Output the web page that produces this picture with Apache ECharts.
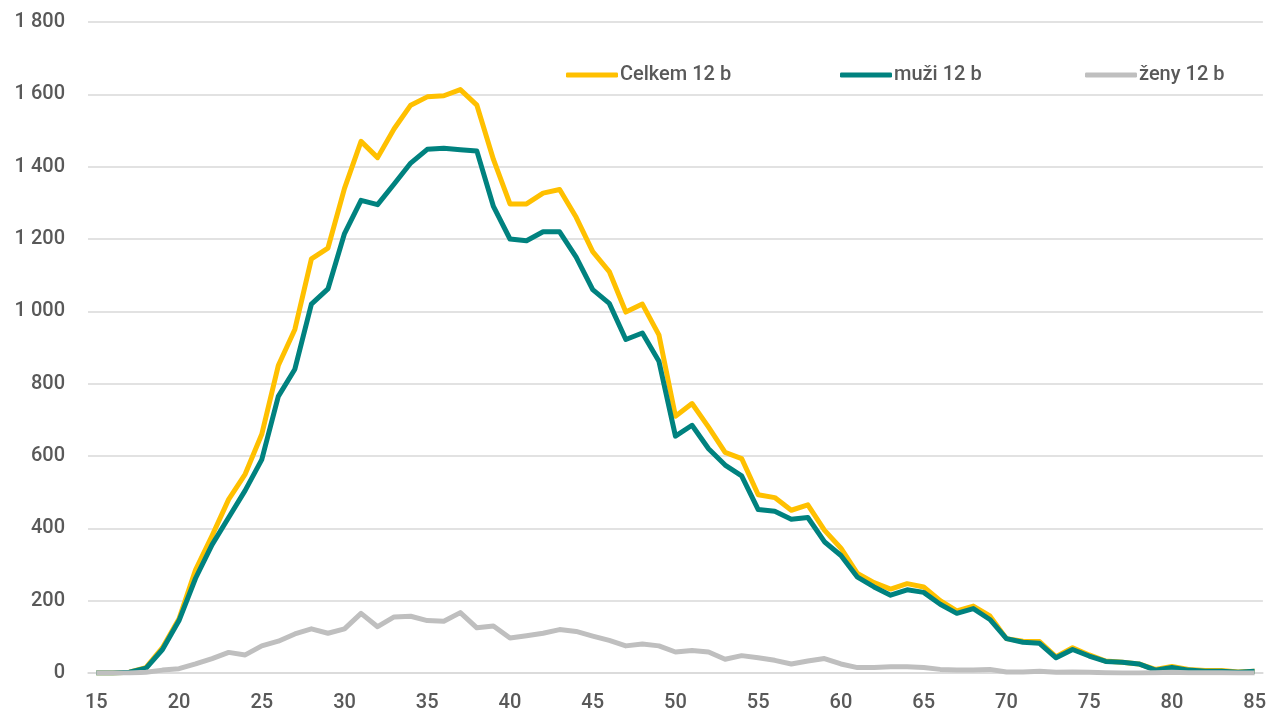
<!DOCTYPE html>
<html>
<head>
<meta charset="UTF-8">
<title>Celkem / muži / ženy 12 b</title>
<script src="https://cdn.jsdelivr.net/npm/echarts@6/dist/echarts.min.js"></script>
<style>
  html, body { margin: 0; padding: 0; background: #fff; }
</style>
</head>
<body>
<div id="main" style="width:1269px;height:717px"></div>
<script type="text/javascript">
// vek 15..85
var ages = [];
for (var a = 15; a <= 85; a++) ages.push(String(a));

var celkem = [0, 0, 2, 15, 70, 150, 285, 380, 480, 550,
  660, 850, 950, 1145, 1175, 1340, 1470, 1425, 1505, 1570,
  1593, 1596, 1613, 1570, 1420, 1297, 1297, 1327, 1337, 1260,
  1165, 1110, 998, 1020, 935, 710, 745, 680, 610, 593,
  493, 485, 450, 465, 395, 345, 275, 250, 232, 247,
  238, 200, 172, 185, 158, 95, 88, 87, 45, 70,
  50, 33, 30, 25, 10, 18, 10, 7, 7, 3, 5];

var muzi = [0, 0, 2, 13, 65, 145, 262, 355, 430, 505,
  590, 765, 840, 1020, 1062, 1215, 1307, 1295, 1352, 1410,
  1448, 1451, 1447, 1443, 1290, 1200, 1195, 1220, 1220, 1150,
  1060, 1022, 922, 940, 862, 655, 685, 620, 575, 545,
  452, 447, 425, 430, 363, 325, 265, 238, 215, 230,
  223, 190, 165, 178, 148, 95, 85, 82, 42, 65,
  47, 32, 30, 25, 8, 15, 8, 5, 5, 2, 5];

var zeny = [0, 0, 0, 2, 8, 12, 25, 40, 57, 50,
  75, 88, 108, 122, 110, 122, 165, 128, 155, 157,
  145, 143, 167, 125, 130, 97, 103, 110, 120, 115,
  102, 90, 75, 80, 75, 58, 62, 58, 38, 48,
  42, 35, 25, 33, 40, 25, 15, 15, 17, 17,
  15, 10, 8, 8, 10, 3, 3, 5, 2, 3,
  2, 1, 0, 0, 1, 2, 1, 1, 1, 0, 0];

var font = 'Roboto, "Noto Sans", sans-serif';
var txt = '#595959';

var myChart = echarts.init(document.getElementById('main'));

function legendAt(name, left) {
  return {
    data: [name],
    left: left,
    top: 60,
    itemWidth: 52,
    itemHeight: 5,
    itemGap: 0,
    icon: 'roundRect',
    textStyle: { fontFamily: font, fontSize: 20, fontWeight: 500, color: txt, padding: [0, 0, 0, -3] }
  };
}

var option = {
  animation: false,
  textStyle: { fontFamily: font },
  grid: { left: 88, right: 4, top: 22, bottom: 44, containLabel: false },
  legend: [
    legendAt('Celkem 12 b', 561),
    legendAt('muži 12 b', 835),
    legendAt('ženy 12 b', 1080)
  ],
  xAxis: {
    type: 'category',
    data: ages,
    boundaryGap: true,
    axisTick: { show: false },
    axisLine: { lineStyle: { color: '#d9d9d9', width: 1.5 } },
    axisLabel: {
      interval: 4,
      color: txt,
      fontSize: 20,
      fontWeight: 500,
      fontFamily: font,
      margin: 20
    }
  },
  yAxis: {
    type: 'value',
    min: 0,
    max: 1800,
    interval: 200,
    axisLine: { show: false },
    axisTick: { show: false },
    splitLine: { lineStyle: { color: '#d9d9d9', width: 1.5 } },
    axisLabel: {
      color: txt,
      fontSize: 20,
      fontWeight: 500,
      fontFamily: font,
      margin: 23,
      formatter: function (v) {
        return String(v).replace(/\B(?=(\d{3})+(?!\d))/g, ' ');
      }
    }
  },
  series: [
    {
      name: 'Celkem 12 b',
      type: 'line',
      data: celkem,
      symbol: 'none',
      lineStyle: { color: '#FFC000', width: 5, join: 'round' },
      itemStyle: { color: '#FFC000' }
    },
    {
      name: 'muži 12 b',
      type: 'line',
      data: muzi,
      symbol: 'none',
      lineStyle: { color: '#00827F', width: 5, join: 'round' },
      itemStyle: { color: '#00827F' }
    },
    {
      name: 'ženy 12 b',
      type: 'line',
      data: zeny,
      symbol: 'none',
      lineStyle: { color: '#BFBFBF', width: 5, join: 'round' },
      itemStyle: { color: '#BFBFBF' }
    }
  ]
};

myChart.setOption(option);
</script>
</body>
</html>
